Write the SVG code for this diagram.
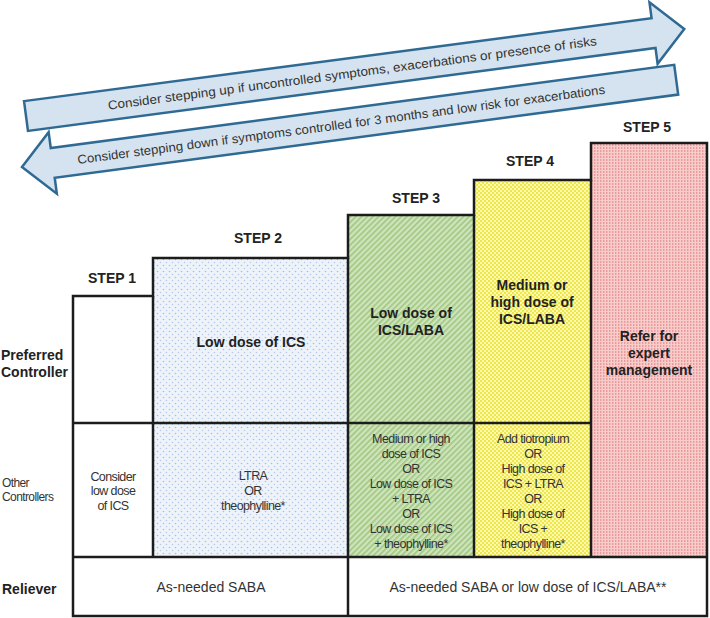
<svg xmlns="http://www.w3.org/2000/svg" width="710" height="618" viewBox="0 0 710 618">
<defs>
<style>
.arrow{fill:#d5e3f0;stroke:#2f6a93;stroke-width:2.5;stroke-linejoin:miter}
.atext{font-family:"Liberation Sans",Arial,sans-serif;font-size:12.5px;fill:#333}
.step{font-family:"Liberation Sans",Arial,sans-serif;font-size:14px;font-weight:bold;fill:#222;text-anchor:middle}
.pref{font-family:"Liberation Sans",Arial,sans-serif;font-size:14px;font-weight:bold;fill:#222;text-anchor:middle}
.oth{font-family:"Liberation Sans",Arial,sans-serif;font-size:12.5px;letter-spacing:-0.6px;fill:#333;text-anchor:middle}
.rel{font-family:"Liberation Sans",Arial,sans-serif;font-size:14px;fill:#333;text-anchor:middle}
.lab{font-family:"Liberation Sans",Arial,sans-serif;font-size:14px;font-weight:bold;fill:#222}
.labs{font-family:"Liberation Sans",Arial,sans-serif;font-size:12px;letter-spacing:-0.6px;fill:#333}
.line{fill:none;stroke:#1c1c1c;stroke-width:2.5}
</style>
<pattern id="p2" patternUnits="userSpaceOnUse" width="6" height="6">
<rect width="6" height="6" fill="#eef3fa"/>
<circle cx="1.5" cy="1.5" r="0.8" fill="#a3bfe2"/>
<circle cx="4.5" cy="4.5" r="0.8" fill="#b3cbe8"/>
</pattern>
<pattern id="p3" patternUnits="userSpaceOnUse" width="4" height="4" patternTransform="rotate(45)">
<rect width="4" height="4" fill="#cfe4bb"/>
<rect width="1.6" height="4" fill="#9fc681"/>
</pattern>
<pattern id="p4" patternUnits="userSpaceOnUse" width="4" height="4">
<rect width="4" height="4" fill="#fbf8b4"/>
<rect width="2" height="2" fill="#efe745"/>
<rect x="2" y="2" width="2" height="2" fill="#efe745"/>
</pattern>
<pattern id="p5" patternUnits="userSpaceOnUse" width="3" height="3">
<rect width="3" height="3" fill="#f9cccc"/>
<rect width="1.4" height="2" fill="#e99a9a"/>
</pattern>
</defs>
<rect width="710" height="618" fill="#fff"/>

<g id="arrow-up">
<g transform="translate(26,116) rotate(-7.53)">
<polygon class="arrow" points="0,-15 633,-15 633,-31 664,0 633,31 633,15 0,15"/>
<text class="atext" x="329" y="4.5" text-anchor="middle" textLength="493" lengthAdjust="spacingAndGlyphs">Consider stepping up if uncontrolled symptoms, exacerbations or presence of risks</text>
</g>
</g>
<g id="arrow-down">
<g transform="translate(22,167) rotate(-7.6)">
<polygon class="arrow" points="0,0 31,-31 31,-15 660,-15 660,15 31,15 31,31"/>
<text class="atext" x="322" y="4.5" text-anchor="middle" textLength="532" lengthAdjust="spacingAndGlyphs">Consider stepping down if symptoms controlled for 3 months and low risk for exacerbations</text>
</g>
</g>

<g id="row-labels">
<text class="lab" x="1" y="360">Preferred</text>
<text class="lab" x="1" y="377">Controller</text>
<text class="labs" x="2" y="487">Other</text>
<text class="labs" x="2" y="501">Controllers</text>
<text class="lab" x="2" y="594">Reliever</text>
</g>

<g id="step1">
<rect x="73" y="296" width="80" height="261" fill="#fff"/>
<text class="step" x="112" y="283">STEP 1</text>
<text class="oth" x="113" y="481">Consider</text>
<text class="oth" x="113" y="495">low dose</text>
<text class="oth" x="113" y="510">of ICS</text>
</g>

<g id="step2">
<rect x="153" y="258" width="195" height="299" fill="url(#p2)"/>
<text class="step" x="258" y="243">STEP 2</text>
<text class="pref" x="251" y="347">Low dose of ICS</text>
<text class="oth" x="253" y="480">LTRA</text>
<text class="oth" x="253" y="495">OR</text>
<text class="oth" x="253" y="510">theophylline*</text>
</g>

<g id="step3">
<rect x="348" y="215" width="126" height="342" fill="url(#p3)"/>
<text class="step" x="416" y="203">STEP 3</text>
<text class="pref" x="411" y="318">Low dose of</text>
<text class="pref" x="411" y="335">ICS/LABA</text>
<text class="oth" x="411" y="443">Medium or high</text>
<text class="oth" x="411" y="458">dose of ICS</text>
<text class="oth" x="411" y="473">OR</text>
<text class="oth" x="411" y="488">Low dose of ICS</text>
<text class="oth" x="411" y="503">+ LTRA</text>
<text class="oth" x="411" y="518">OR</text>
<text class="oth" x="411" y="533">Low dose of ICS</text>
<text class="oth" x="411" y="548">+ theophylline*</text>
</g>

<g id="step4">
<rect x="474" y="180" width="117" height="377" fill="url(#p4)"/>
<text class="step" x="530" y="166">STEP 4</text>
<text class="pref" x="532" y="290">Medium or</text>
<text class="pref" x="532" y="307">high dose of</text>
<text class="pref" x="532" y="324">ICS/LABA</text>
<text class="oth" x="533" y="443">Add tiotropium</text>
<text class="oth" x="533" y="458">OR</text>
<text class="oth" x="533" y="473">High dose of</text>
<text class="oth" x="533" y="488">ICS + LTRA</text>
<text class="oth" x="533" y="503">OR</text>
<text class="oth" x="533" y="518">High dose of</text>
<text class="oth" x="533" y="533">ICS +</text>
<text class="oth" x="533" y="548">theophylline*</text>
</g>

<g id="step5">
<rect x="591" y="143" width="116" height="414" fill="url(#p5)"/>
<text class="step" x="647" y="132">STEP 5</text>
<text class="pref" x="649" y="341">Refer for</text>
<text class="pref" x="649" y="358">expert</text>
<text class="pref" x="649" y="375">management</text>
</g>

<g id="reliever">
<rect x="73" y="557" width="634" height="59" fill="#fff"/>
<text class="rel" x="211" y="592">As-needed SABA</text>
<text class="rel" x="528" y="592">As-needed SABA or low dose of ICS/LABA**</text>
</g>

<g id="connectors">
<path class="line" d="M73,557 V296 H153 V258 H348 V215 H474 V180 H591 V143 H707 V616 H73 Z"/>
<path class="line" d="M153,296 V557 M348,258 V616 M474,215 V557 M591,180 V557 M73,423 H591 M73,557 H707"/>
</g>
</svg>
